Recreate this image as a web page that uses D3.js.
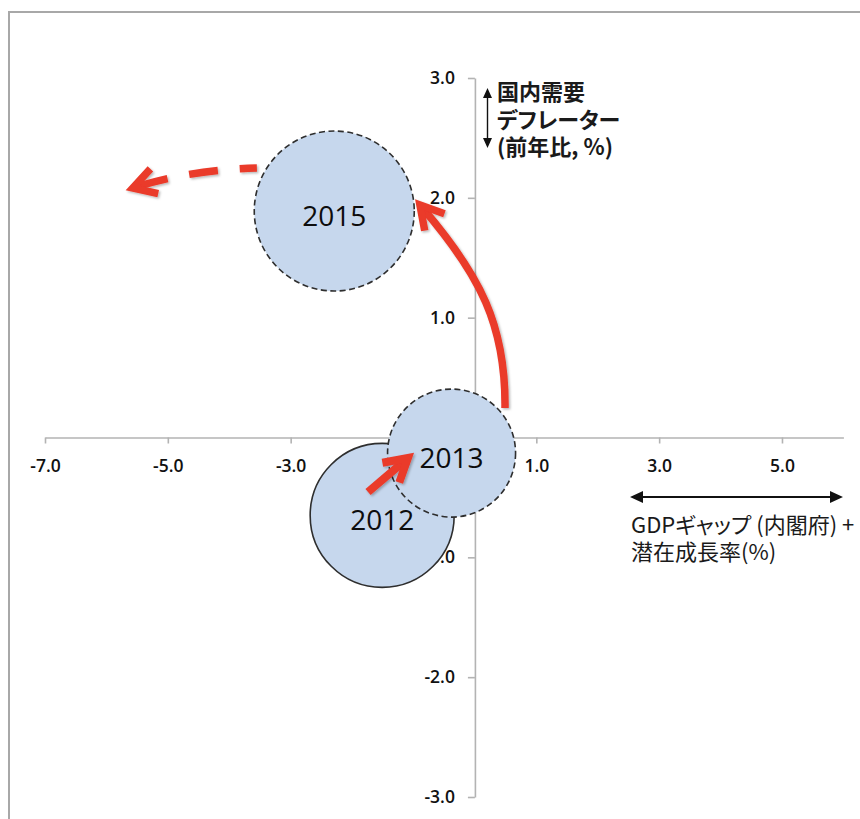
<!DOCTYPE html>
<html>
<head>
<meta charset="utf-8">
<script src="https://cdn.jsdelivr.net/npm/d3@7"></script>
<style>
  html, body { margin: 0; padding: 0; background: #fff; }
  svg { display: block; }
</style>
</head>
<body>
<svg id="chart" width="860" height="819"></svg>
<script>
// Bubble data: x = GDP gap (Cabinet Office) + potential growth, y = domestic demand deflator
const years = ["2012", "2013", "2015"];
const gdpGapPlusPotential = [-1.51, -0.38, -2.29];
const demandDeflator = [-0.65, -0.13, 1.89];
const bubbleSize = [81, 64, 100];

// Axis ticks (labels listed in hiddenXLabels / hiddenYLabels sit under the bubbles)
const xTickValues = [-7, -5, -3, -1, 1, 3, 5];
const yTickValues = [-3, -2, -1, 0, 1, 2, 3];
const hiddenXLabels = [-1];
const hiddenYLabels = [0];

// Axis titles
const yTitleLines = ["国内需要", "デフレーター", "(前年比, %)"];
const xTitleLines = ["GDPギャップ (内閣府) +", "潜在成長率(%)"];

// Trajectory arrows between the years, in data units (start, controls..., tip)
const pathStraight = [[-1.74, -0.455], [-1.09, -0.171]];
const pathUp = [[0.49, 0.246], [0.505, 0.939], [0.081, 1.356], [-0.895, 1.94]];
const pathOut = [[-3.55, 2.249], [-4.64, 2.232], [-5.57, 2.082]];

const W = 860, H = 819;
const svg = d3.select("#chart");

const x = d3.scaleLinear().domain([-7, 6]).range([45, 843.4]);
const y = d3.scaleLinear().domain([-3, 3]).range([797, 78]);
const r = d3.scaleSqrt().domain([0, 100]).range([0, 80]);

const fmtX = d => hiddenXLabels.includes(d) ? "" : d.toFixed(1);
const fmtY = d => hiddenYLabels.includes(d) ? "" : d.toFixed(1);
const AXIS = "#b3b3b3";
const RED = "#ea3a2a";
const TICK_FONT = "'Open Sans', Lato, sans-serif";
const JP_FONT = "'Noto Sans CJK JP', 'Noto Sans', sans-serif";

// drop shadow for the red arrows
const defs = svg.append("defs");
const f = defs.append("filter").attr("id", "shadow")
  .attr("x", "-30%").attr("y", "-30%").attr("width", "160%").attr("height", "160%");
f.append("feDropShadow").attr("dx", 1.5).attr("dy", 1.5)
  .attr("stdDeviation", 1.2).attr("flood-color", "#000").attr("flood-opacity", 0.28);

// outer chart frame
svg.append("rect")
  .attr("x", 9).attr("y", 12).attr("width", W + 20).attr("height", H + 20)
  .attr("fill", "none").attr("stroke", "#a8a8a8").attr("stroke-width", 2);

// axes crossing at the origin
const gx = svg.append("g")
  .attr("transform", `translate(0,${y(0)})`)
  .call(d3.axisBottom(x).tickValues(xTickValues).tickFormat(fmtX)
    .tickSize(6).tickSizeOuter(0).tickPadding(16));

const gy = svg.append("g")
  .attr("transform", `translate(${x(0)},0)`)
  .call(d3.axisLeft(y).tickValues(yTickValues).tickFormat(fmtY)
    .tickSize(7).tickSizeOuter(0).tickPadding(13));

[gx, gy].forEach(g => {
  g.select(".domain").attr("stroke", AXIS).attr("stroke-width", 1.6);
  g.selectAll(".tick line").attr("stroke", AXIS).attr("stroke-width", 1.6);
  g.selectAll(".tick text")
    .attr("fill", "#111")
    .style("font-family", TICK_FONT)
    .style("font-size", "17.5px")
    .style("font-weight", 600);
});

// bubbles
const bubbles = years.map((yr, i) => ({
  year: yr, xv: gdpGapPlusPotential[i], yv: demandDeflator[i], size: bubbleSize[i]
}));
const dashFor = d => d.year === "2012" ? null : "6,3.5";

const gb = svg.append("g");
gb.selectAll("circle").data(bubbles).join("circle")
  .attr("cx", d => x(d.xv))
  .attr("cy", d => y(d.yv))
  .attr("r", d => r(d.size))
  .attr("fill", "#c6d7ed")
  .attr("stroke", "#2e2e2e")
  .attr("stroke-width", 1.6)
  .attr("stroke-dasharray", dashFor);

gb.selectAll("text").data(bubbles).join("text")
  .attr("x", d => x(d.xv))
  .attr("y", d => y(d.yv) + 4)
  .attr("text-anchor", "middle")
  .attr("dominant-baseline", "central")
  .attr("fill", "#0d0d0d")
  .style("font-family", TICK_FONT)
  .style("font-size", "28px")
  .style("font-weight", 500)
  .text(d => d.year);

// red trajectory arrows
function arrowPath(pts) {
  const p = pts.map(([a, b]) => [x(a), y(b)]);
  // pull the shaft back a little so it tucks into the arrow head
  const tip = p[p.length - 1], prev = p[p.length - 2];
  const dx = tip[0] - prev[0], dy = tip[1] - prev[1];
  const len = Math.hypot(dx, dy);
  const end = [tip[0] - dx / len * 4, tip[1] - dy / len * 4];
  let dstr = `M${p[0][0]},${p[0][1]}`;
  if (p.length === 2) dstr += `L${end[0]},${end[1]}`;
  else if (p.length === 3) dstr += `Q${p[1][0]},${p[1][1]} ${end[0]},${end[1]}`;
  else dstr += `C${p[1][0]},${p[1][1]} ${p[2][0]},${p[2][1]} ${end[0]},${end[1]}`;
  const back = Math.atan2(-dy, -dx);
  const L = 26, half = 30 * Math.PI / 180;
  const a1 = [tip[0] + L * Math.cos(back - half), tip[1] + L * Math.sin(back - half)];
  const a2 = [tip[0] + L * Math.cos(back + half), tip[1] + L * Math.sin(back + half)];
  const head = `M${a1[0]},${a1[1]}L${tip[0]},${tip[1]}L${a2[0]},${a2[1]}`;
  return { shaft: dstr, head };
}

const ga = svg.append("g").attr("filter", "url(#shadow)");
[
  { pts: pathStraight, dash: null, w: 8 },
  { pts: pathUp, dash: null, w: 7.5 },
  { pts: pathOut, dash: "29,22", w: 7.5 }
].forEach(a => {
  const ap = arrowPath(a.pts);
  ga.append("path").attr("d", ap.shaft)
    .attr("fill", "none").attr("stroke", RED).attr("stroke-width", a.w)
    .attr("stroke-dasharray", a.dash).attr("stroke-dashoffset", a.dash ? 12 : null);
  ga.append("path").attr("d", ap.head)
    .attr("fill", "none").attr("stroke", RED).attr("stroke-width", a.w)
    .attr("stroke-linejoin", "miter").attr("stroke-miterlimit", 6);
});

// y-axis title with a two-headed vertical arrow
const ax = 487.5, ayTop = 88, ayBot = 148;
svg.append("line").attr("x1", ax).attr("x2", ax).attr("y1", ayTop + 6).attr("y2", ayBot - 6)
  .attr("stroke", "#111").attr("stroke-width", 1.4);
svg.append("path")
  .attr("d", `M${ax},${ayTop}L${ax - 4.5},${ayTop + 10}L${ax + 4.5},${ayTop + 10}Z
              M${ax},${ayBot}L${ax - 4.5},${ayBot - 10}L${ax + 4.5},${ayBot - 10}Z`)
  .attr("fill", "#111");

const yTitle = svg.append("text")
  .attr("fill", "#1a1a1a")
  .style("font-family", JP_FONT)
  .style("font-size", "22px")
  .style("font-weight", 700)
  .style("font-feature-settings", "'palt'");
yTitle.selectAll("tspan").data(yTitleLines).join("tspan")
  .attr("x", 497)
  .attr("y", (d, i) => 100 + i * 27.5)
  .text(d => d);

// x-axis title with a two-headed horizontal arrow
const hx1 = 630, hx2 = 843, hy = 497;
svg.append("line").attr("x1", hx1 + 10).attr("x2", hx2 - 10).attr("y1", hy).attr("y2", hy)
  .attr("stroke", "#111").attr("stroke-width", 2);
svg.append("path")
  .attr("d", `M${hx1},${hy}L${hx1 + 13},${hy - 6}L${hx1 + 13},${hy + 6}Z
              M${hx2},${hy}L${hx2 - 13},${hy - 6}L${hx2 - 13},${hy + 6}Z`)
  .attr("fill", "#111");

const xTitle = svg.append("text")
  .attr("fill", "#1a1a1a")
  .style("font-family", JP_FONT)
  .style("font-size", "22px")
  .style("font-weight", 400)
  .style("font-feature-settings", "'palt'");
xTitle.selectAll("tspan").data(xTitleLines).join("tspan")
  .attr("x", 631)
  .attr("y", (d, i) => 533 + i * 27)
  .text(d => d);
</script>
</body>
</html>
